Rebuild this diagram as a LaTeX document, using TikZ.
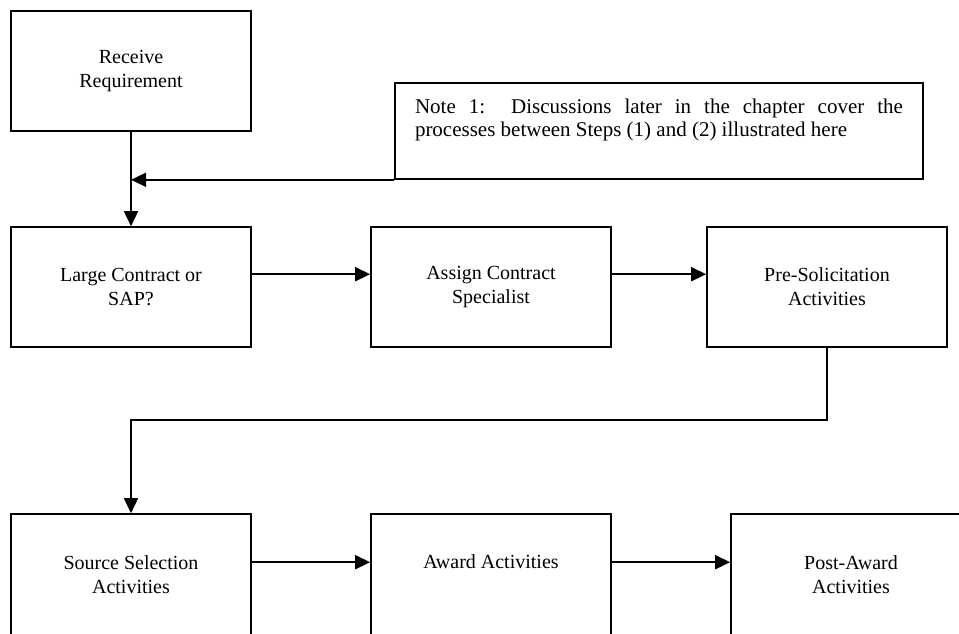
\documentclass[tikz,border=0pt]{standalone}
\usepackage{fontspec}
\setmainfont{Liberation Serif}
\usetikzlibrary{arrows.meta}

\tikzset{
  stepbox/.style={draw, line width=1.6pt, minimum width=240pt, minimum height=120pt,
    align=center, font=\fontsize{20}{24}\selectfont},
  notebox/.style={draw, line width=1.6pt, minimum width=528pt, minimum height=96pt},
  flow/.style={line width=1.6pt, -{Triangle[length=15pt,width=14pt]}},
}

\begin{document}
\begin{tikzpicture}[x=1pt,y=-1pt]
    \useasboundingbox (0,0) rectangle (959,633);
    \clip (0,0) rectangle (959,633);
    \node[stepbox] (recv) at (131,71) {Receive\\Requirement};
    \node[notebox] (note) at (659,131) {};
    \node[anchor=north, inner sep=0pt, text width=488pt, align=justify,
      font=\fontsize{21}{22.5}\selectfont] (notetext) at ([yshift=-17pt]note.north)
      {Note 1:\ \ Discussions later in the chapter cover the\linebreak processes between Steps (1) and (2) illustrated here};
    \node[stepbox] (large) at (131,287) {Large Contract or\\SAP?};
    \node[stepbox] (assign) at (491,287) {Assign Contract\\Specialist};
    \node[stepbox] (presol) at (827,287) {Pre-Solicitation\\Activities};
    \node[stepbox, minimum height=122pt] (source) at (131,575) {Source Selection\\Activities};
    \node[stepbox, minimum height=122pt, text depth=26pt] (award) at (491,575) {Award Activities};
    \node[stepbox, minimum height=122pt] (post) at (851,575) {Post-Award\\Activities};
    \draw[flow] (recv) -- (large);
    \draw[flow] (note.south west) -- (note.south west -| recv.south);
    \draw[flow] ([yshift=-48pt]large.north east) -- ([yshift=-48pt]assign.north west);
    \draw[flow] ([yshift=-48pt]assign.north east) -- ([yshift=-48pt]presol.north west);
    \draw[flow] (presol.south) -- ++(0,72) -| (source.north);
    \draw[flow] ([yshift=-49pt]source.north east) -- ([yshift=-49pt]award.north west);
    \draw[flow] ([yshift=-49pt]award.north east) -- ([yshift=-49pt]post.north west);
  \end{tikzpicture}
\end{document}
